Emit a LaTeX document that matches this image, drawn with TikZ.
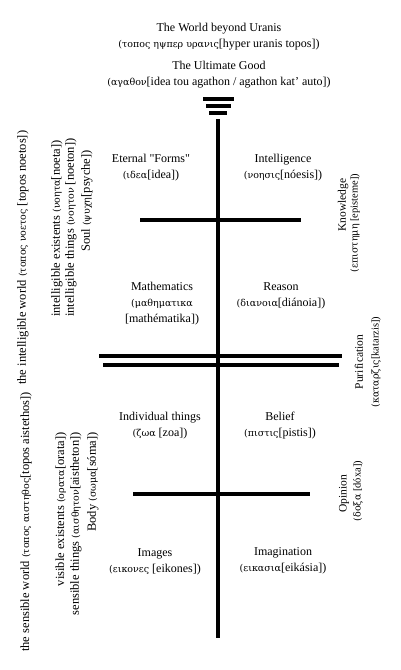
\documentclass[tikz,border=0pt]{standalone}
\usepackage{fontspec}
\setmainfont{Liberation Serif}
\newfontfamily\greekfont{DejaVu Serif}
\newfontfamily\qfont{Liberation Serif}
\usetikzlibrary{positioning}

% 希腊文小字
\newcommand{\gk}[1]{{\greekfont\fontsize{9.5}{12}\selectfont #1}}
\newcommand{\qt}{{\qfont"}}

\tikzset{
  lbl/.style={align=center, inner sep=0pt, font=\fontsize{12}{16}\selectfont},
  side/.style={rotate=90, inner sep=0pt, font=\fontsize{12.5}{14}\selectfont},
  rside/.style={rotate=90, inner sep=0pt, font=\fontsize{11.5}{13}\selectfont},
  sidesmall/.style={rotate=90, inner sep=0pt, font=\fontsize{10.5}{12}\selectfont},
  bar/.style={line width=3.8pt}
}

\begin{document}
\begin{tikzpicture}[x=1pt, y=-1pt]
  \useasboundingbox (0,0) rectangle (401,670);

  % 顶部标题
  \node[lbl] (beyond) at (219,37) {The World beyond Uranis\\\gk{(τοπος ηψπερ υρανις}[hyper uranis topos])};
  \node[lbl] (good) at (219,75) {The Ultimate Good\\\gk{(αγαθον}[idea tou agathon / agathon kat' auto])};

  % 竖线与顶端横杠
  \foreach \y/\a/\b in {99/203/234, 106/206/231, 113/209/227}
    \draw[bar] (\a,\y) -- (\b,\y);
  \draw[bar] (218,119) -- (218,638);

  % 分隔横线
  \foreach \y/\a/\b in {220/140/301, 356/99/342, 365/103/339, 494/133/310}
    \draw[bar] (\a,\y) -- (\b,\y);

  % 四个区域
  \node[lbl] (forms) at (151,168) {Eternal \qt Forms\qt\\\gk{(ιδεα}[idea])};
  \node[lbl] (intel) at (283,168) {Intelligence\\\gk{(νοησις}[nóesis])};
  \node[lbl] (math) at (162,304) {Mathematics\\\gk{(μαθηματικα}\\{}[mathématika])};
  \node[lbl] (reason) at (281,296) {Reason\\\gk{(διανοια}[diánoia])};
  \node[lbl] (things) at (160,426) {Individual things\\\gk{(ζωα} [zoa])};
  \node[lbl] (belief) at (280,426) {Belief\\\gk{(πιστις}[pistis])};
  \node[lbl] (images) at (155,562) {Images\\\gk{(εικονες} [eikones])};
  \node[lbl] (imagin) at (283,561) {Imagination\\\gk{(εικασια}[eikásia])};

  % 左侧竖排文字
  \node[side, anchor=west] (intworld) at (23,385) {the intelligible world \gk{(τοπος νοετος} [topos noetos])};
  \node[side, anchor=west] (intexist) at (57,317) {intelligible existents \gk{(νοητα}[noeta])};
  \node[side, anchor=west] (intthing) at (71,317) {intelligible things \gk{(νοητον} [noeton])};
  \node[side, anchor=west] (soul) at (87,252) {Soul \gk{(ψυχη}[psyche])};
  \node[side, anchor=west] (senworld) at (26,652) {the sensible world \gk{(τοπος αιστηθος}[topos aistethos])};
  \node[side, anchor=east] (visexist) at (61,432) {visible existents \gk{(ορατα}[orata])};
  \node[side, anchor=east] (senthing) at (76,432) {sensible things \gk{(αισθητον}[aistheton])};
  \node[side, anchor=east] (body) at (93,432) {Body \gk{(σωμα}[sóma])};

  % 右侧竖排文字
  \node[rside] (know) at (343,205) {Knowledge};
  \node[sidesmall] (knowgr) at (355,223) {\gk{(επιστημη} [episteme])};
  \node[rside] (purif) at (359,362) {Purification};
  \node[sidesmall] (purifgr) at (376,362) {\gk{(καταρζις}[katarzis])};
  \node[rside] (opin) at (344,494) {Opinion};
  \node[sidesmall] (opingr) at (358,491) {\gk{(δοξα} [dóxa])};
\end{tikzpicture}
\end{document}
